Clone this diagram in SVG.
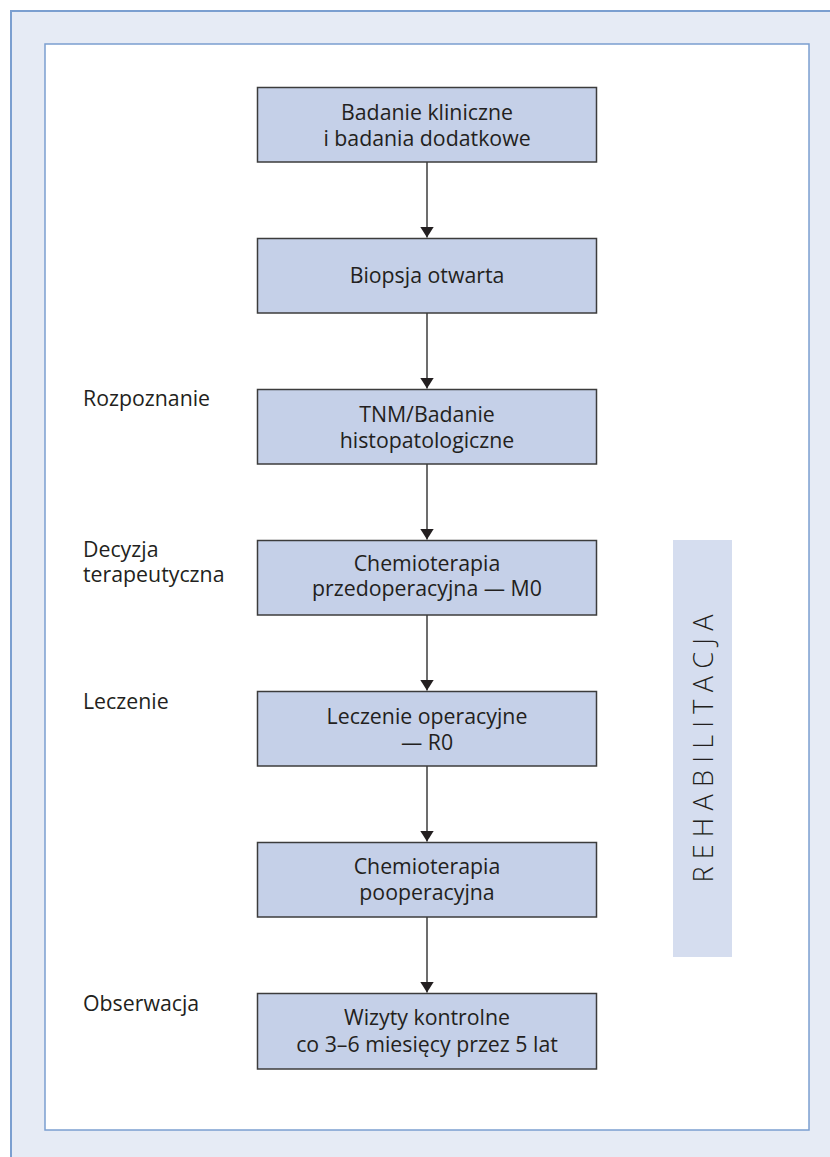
<svg xmlns="http://www.w3.org/2000/svg" width="830" height="1157" viewBox="0 0 830 1157">
<defs>
<style>
.bg{fill:#e6ebf5;stroke:#7b9fd0;stroke-width:2}
.panel{fill:#ffffff;stroke:#7b9fd0;stroke-width:1.5}
.box{fill:#c5d0e8;stroke:#3c3c3c;stroke-width:1.5}
.t{font-family:"Open Sans","Noto Sans","Liberation Sans",sans-serif;font-size:21.3px;fill:#231f20}
.c{text-anchor:middle}
.rehab{fill:#d5ddef}
.rt{font-family:"Open Sans","Noto Sans","Liberation Sans",sans-serif;font-size:27px;font-weight:300;fill:#231f20;letter-spacing:7.25px;text-anchor:middle}
.conn line{stroke:#3c3c3c;stroke-width:1.5}
</style>
<marker id="ah" viewBox="0 0 11 14" refX="11" refY="7" markerWidth="11" markerHeight="14" markerUnits="userSpaceOnUse" orient="auto">
<path d="M0,0 L11,7 L0,14 Z" fill="#231f20"/>
</marker>
</defs>
<rect class="bg" x="11" y="11" width="840" height="1170"/>
<rect class="panel" x="45" y="44" width="764" height="1086"/>
<g id="rehabilitacja">
<rect class="rehab" x="673" y="540" width="59" height="417"/>
<text class="rt" transform="translate(713,745) rotate(-90)" x="0" y="0">REHABILITACJA</text>
</g>
<g id="labels">
<text class="t" x="83" y="405.7">Rozpoznanie</text>
<text class="t" x="83" y="556.7">Decyzja</text>
<text class="t" x="83" y="582">terapeutyczna</text>
<text class="t" x="83" y="708.7">Leczenie</text>
<text class="t" x="83" y="1010.7">Obserwacja</text>
</g>
<g id="n1">
<rect class="box" x="257.5" y="87.5" width="339" height="74.5"/>
<text class="t c" x="427" y="119.5">Badanie kliniczne</text>
<text class="t c" x="427" y="145.5">i badania dodatkowe</text>
</g>
<g id="n2">
<rect class="box" x="257.5" y="238.5" width="339" height="74.5"/>
<text class="t c" x="427" y="283">Biopsja otwarta</text>
</g>
<g id="n3">
<rect class="box" x="257.5" y="389.5" width="339" height="74.5"/>
<text class="t c" x="427" y="421.5">TNM/Badanie</text>
<text class="t c" x="427" y="447.5">histopatologiczne</text>
</g>
<g id="n4">
<rect class="box" x="257.5" y="540.5" width="339" height="74.5"/>
<text class="t c" x="427" y="571">Chemioterapia</text>
<text class="t c" x="427" y="596">przedoperacyjna — M0</text>
</g>
<g id="n5">
<rect class="box" x="257.5" y="691.5" width="339" height="74.5"/>
<text class="t c" x="427" y="724">Leczenie operacyjne</text>
<text class="t c" x="427" y="750">— R0</text>
</g>
<g id="n6">
<rect class="box" x="257.5" y="842.5" width="339" height="74.5"/>
<text class="t c" x="427" y="874">Chemioterapia</text>
<text class="t c" x="427" y="899.5">pooperacyjna</text>
</g>
<g id="n7">
<rect class="box" x="257.5" y="993.5" width="339" height="75.5"/>
<text class="t c" x="427" y="1025">Wizyty kontrolne</text>
<text class="t c" x="427" y="1051.5">co 3–6 miesięcy przez 5 lat</text>
</g>
<g id="connectors" class="conn">
<line x1="427" y1="162" x2="427" y2="237.5" marker-end="url(#ah)"/>
<line x1="427" y1="313" x2="427" y2="388.5" marker-end="url(#ah)"/>
<line x1="427" y1="464" x2="427" y2="539.5" marker-end="url(#ah)"/>
<line x1="427" y1="615" x2="427" y2="690.5" marker-end="url(#ah)"/>
<line x1="427" y1="766" x2="427" y2="841.5" marker-end="url(#ah)"/>
<line x1="427" y1="917" x2="427" y2="992.5" marker-end="url(#ah)"/>
</g>
</svg>
